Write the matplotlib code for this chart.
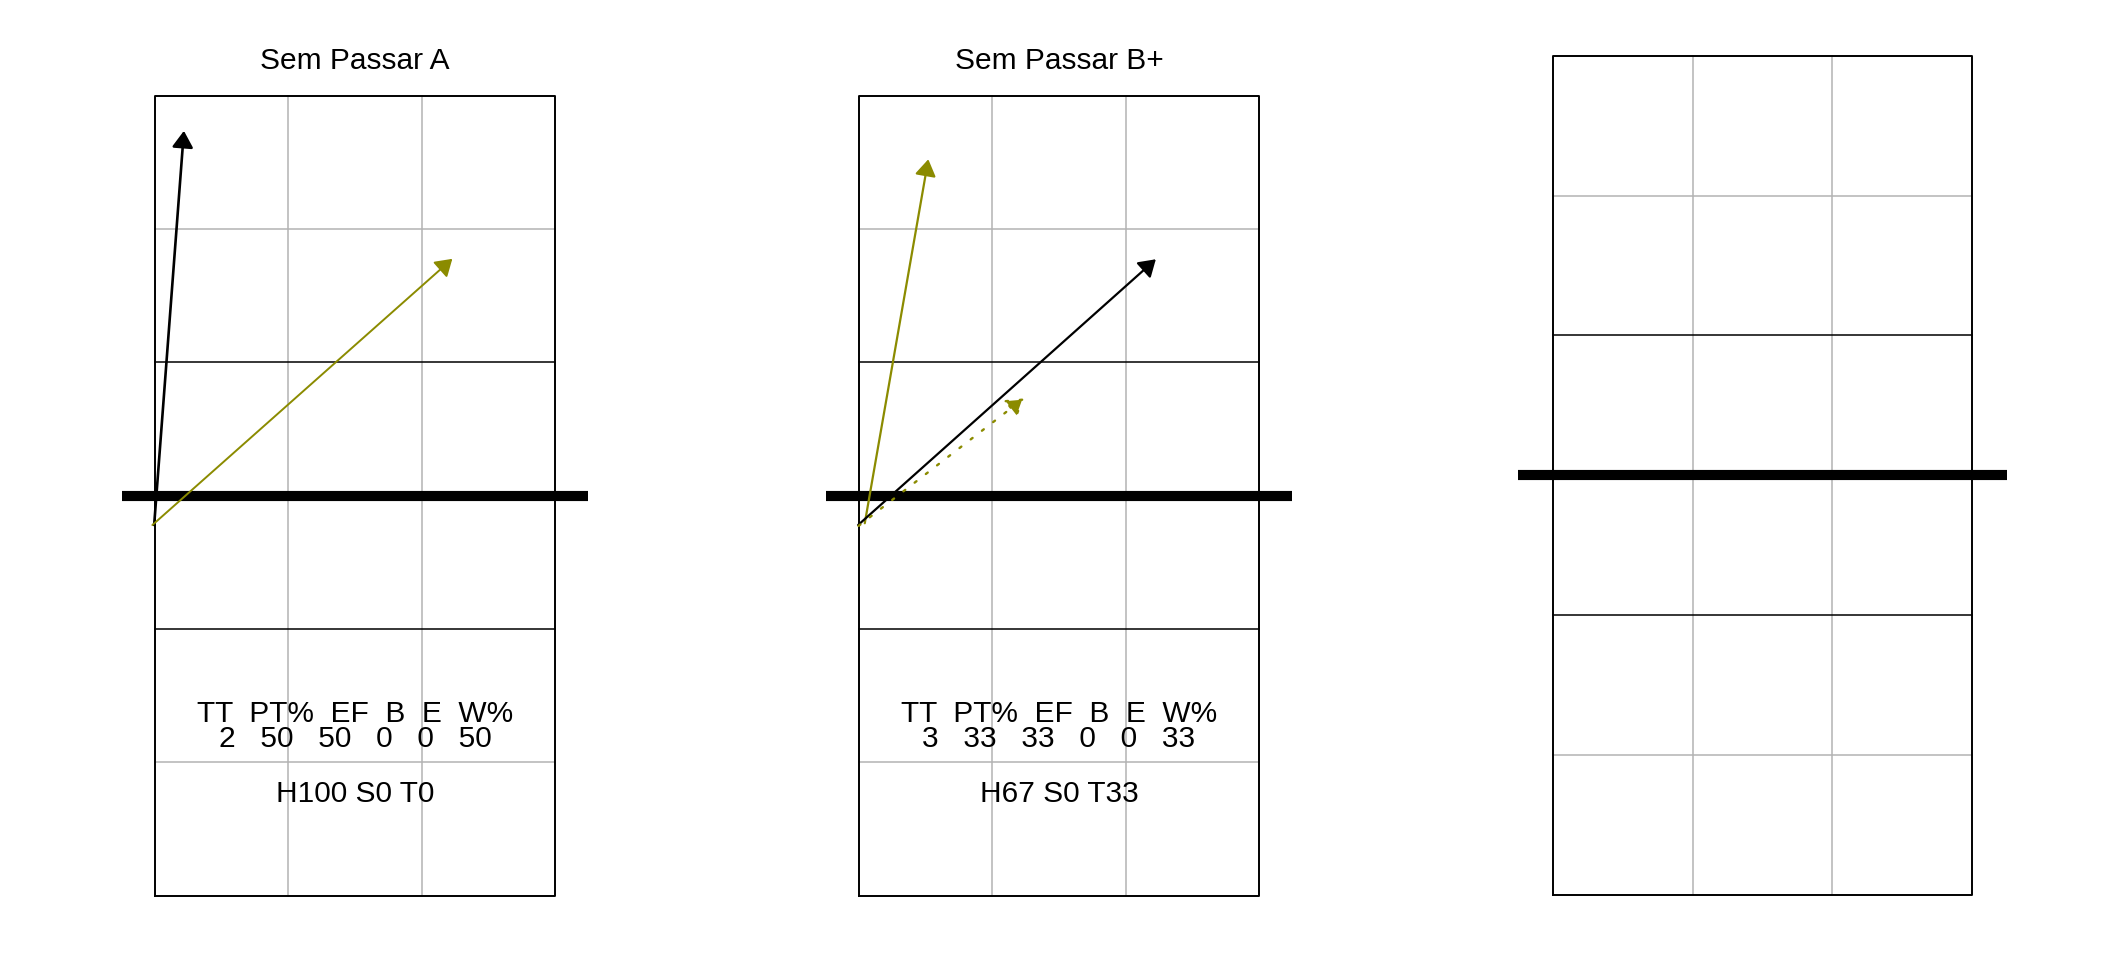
import matplotlib.pyplot as plt

plt.rcParams['font.family'] = ['Liberation Sans', 'DejaVu Sans']

# Panel titles and the reception stats table under each court
titles = ['Sem Passar A', 'Sem Passar B+', '']
header = 'TT  PT%  EF  B  E  W%'
tt = [2, 3]
pt_pct = [50, 33]
ef = [50, 33]
blk = [0, 0]
err = [0, 0]
w_pct = [50, 33]
h_pct = [100, 67]
s_pct = [0, 0]
t_pct = [0, 33]

# Arrows per panel (court units: 9 wide, 18 long, net at 9)
arrow_x0 = [[-0.02, -0.06], [0.13, -0.02, -0.01], []]
arrow_y0 = [[8.34, 8.34], [8.38, 8.34, 8.32], []]
arrow_x1 = [[0.65, 6.69], [1.56, 6.68, 3.71], []]
arrow_y1 = [[17.21, 14.33], [16.57, 14.32, 11.19], []]
arrow_col = [['black', '#8B8B00'], ['#8B8B00', 'black', '#8B8B00'], []]
arrow_ls = [['-', '-'], ['-', '-', (0, (1, 5))], []]
arrow_lw = [[1.9, 1.4], [1.6, 1.6, 1.7], []]

# axes rectangles in figure fraction, picked so one court unit is square
positions = [
    [0.05237, 0.02073, 0.23144, 0.92583],
    [0.38568, 0.02073, 0.23144, 0.92583],
    [0.71311, 0.01948, 0.24285, 0.97094],
]


def draw_court(ax):
    gray = '#b3b3b3'
    for x in [3, 6]:
        ax.plot([x, x], [0, 18], color=gray, lw=1.1, zorder=1)
    for y in [3, 15]:
        ax.plot([0, 9], [y, y], color=gray, lw=1.1, zorder=1)
    for y in [6, 12]:
        ax.plot([0, 9], [y, y], color='black', lw=1.1, zorder=2)
    ax.plot([0, 9, 9, 0, 0], [0, 0, 18, 18, 0], color='black', lw=1.4, zorder=2)
    # net
    ax.plot([-0.75, 9.75], [9, 9], color='black', lw=7.3, solid_capstyle='butt', zorder=3)


fig = plt.figure(figsize=(21.12, 9.6), dpi=100)

for i in range(3):
    ax = fig.add_axes(positions[i])
    ax.set_xlim(-1, 10)
    ax.set_ylim(-1, 19)
    ax.axis('off')
    draw_court(ax)

    for j in range(len(arrow_x0[i])):
        ax.annotate('', xy=(arrow_x1[i][j], arrow_y1[i][j]),
                    xytext=(arrow_x0[i][j], arrow_y0[i][j]),
                    arrowprops=dict(arrowstyle='-|>,head_length=0.5,head_width=0.32',
                                    mutation_scale=20, color=arrow_col[i][j],
                                    lw=arrow_lw[i][j], ls=arrow_ls[i][j],
                                    shrinkA=0, shrinkB=0),
                    zorder=4)

    if titles[i]:
        ax.text(4.5, 18.6, titles[i], ha='center', va='baseline', fontsize=21.5)

    if i < 2:
        nums = '   '.join(str(v) for v in [tt[i], pt_pct[i], ef[i], blk[i], err[i], w_pct[i]])
        ax.text(4.5, 3.915, header, ha='center', va='baseline', fontsize=21.5)
        ax.text(4.5, 3.34, nums, ha='center', va='baseline', fontsize=21.5)
        ax.text(4.5, 2.115, 'H%d S%d T%d' % (h_pct[i], s_pct[i], t_pct[i]),
                ha='center', va='baseline', fontsize=21.5)

fig.savefig('out.png', dpi=100)
